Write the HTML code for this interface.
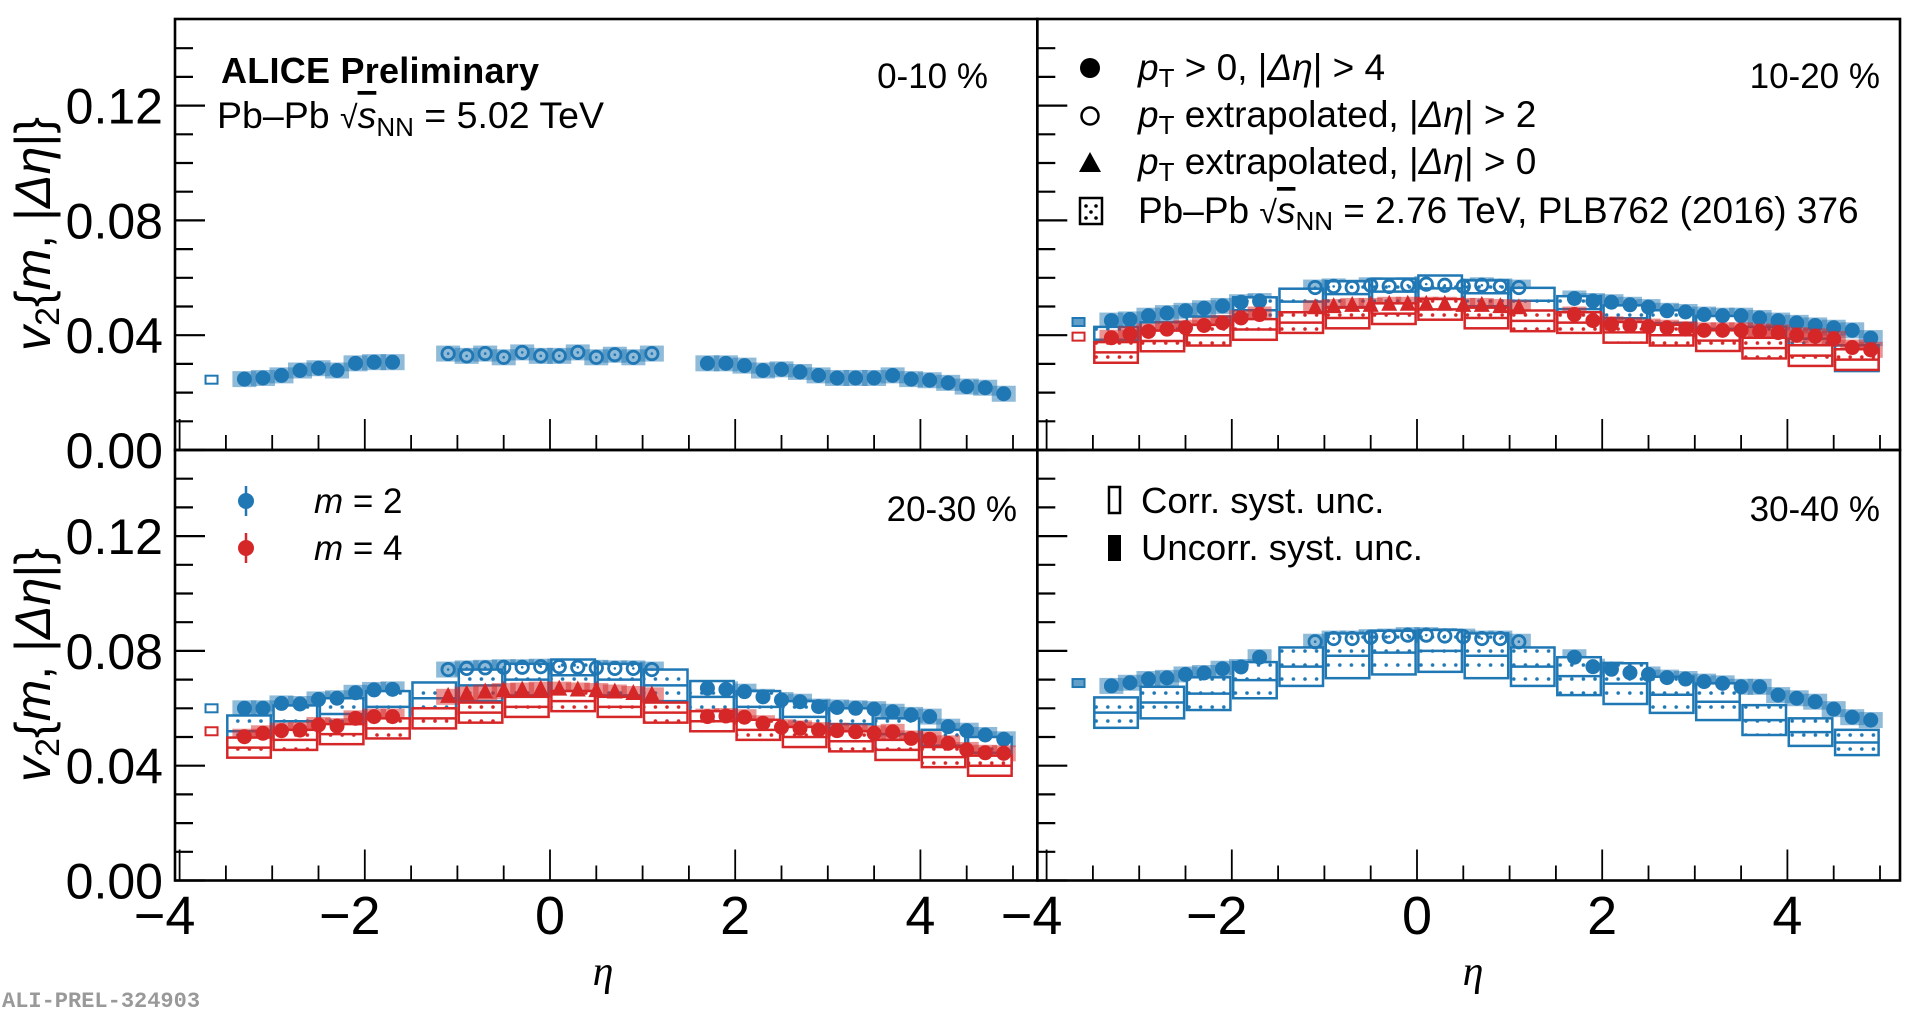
<!DOCTYPE html>
<html><head><meta charset="utf-8"><style>
html,body{margin:0;padding:0;background:#fff}
svg{display:block;font-family:"Liberation Sans",sans-serif}
</style></head><body>
<svg id="chart" width="1920" height="1011" viewBox="0 0 1920 1011" xmlns="http://www.w3.org/2000/svg">
<defs>
<pattern id="dotsB" width="11.6" height="14" patternUnits="userSpaceOnUse"><circle cx="5.8" cy="7" r="1.8" fill="#1f77b4"/></pattern>
<pattern id="dotsR" width="11.6" height="14" patternUnits="userSpaceOnUse"><circle cx="5.8" cy="7" r="1.8" fill="#d62728"/></pattern>
</defs>
<g id="layer"></g>
<text x="221" y="83" font-size="36" font-weight="bold" textLength="318">ALICE Preliminary</text>
<text x="217" y="128" font-size="37.5">Pb–Pb <tspan font-size="32">√</tspan><tspan text-decoration="overline" font-style="italic">s</tspan><tspan font-size="26" dy="8">NN</tspan><tspan dy="-8"> = 5.02 TeV</tspan></text>
<text x="988" y="88" font-size="35" text-anchor="end">0-10 %</text>
<text x="1880" y="88" font-size="35" text-anchor="end">10-20 %</text>
<text x="1017" y="521" font-size="35" text-anchor="end">20-30 %</text>
<text x="1880" y="521" font-size="35" text-anchor="end">30-40 %</text>
<g font-size="37">
<circle cx="1090" cy="68" r="10" fill="#000"/>
<text x="1138" y="80"><tspan font-style="italic">p</tspan><tspan font-size="26" dy="7">T</tspan><tspan dy="-7"> &gt; 0, |</tspan><tspan font-style="italic">Δη</tspan>| &gt; 4</text>
<circle cx="1090" cy="116" r="8.5" fill="none" stroke="#000" stroke-width="2.5"/>
<text x="1138" y="127"><tspan font-style="italic">p</tspan><tspan font-size="26" dy="7">T</tspan><tspan dy="-7"> extrapolated, |</tspan><tspan font-style="italic">Δη</tspan>| &gt; 2</text>
<polygon points="1090,152 1101,172 1079,172" fill="#000"/>
<text x="1138" y="174"><tspan font-style="italic">p</tspan><tspan font-size="26" dy="7">T</tspan><tspan dy="-7"> extrapolated, |</tspan><tspan font-style="italic">Δη</tspan>| &gt; 0</text>
<rect x="1080" y="198" width="22" height="26" fill="#fff" stroke="#000" stroke-width="2.5"/>
<circle cx="1086" cy="206" r="1.8" fill="#000"/><circle cx="1096" cy="206" r="1.8" fill="#000"/><circle cx="1091" cy="212" r="1.8" fill="#000"/><circle cx="1086" cy="218" r="1.8" fill="#000"/><circle cx="1096" cy="218" r="1.8" fill="#000"/>
<text x="1138" y="223">Pb–Pb <tspan font-size="32">√</tspan><tspan font-style="italic" text-decoration="overline">s</tspan><tspan font-size="26" dy="7">NN</tspan><tspan dy="-7"> = 2.76 TeV, PLB762 (2016) 376</tspan></text>
</g>
<g font-size="35">
<line x1="246" y1="486" x2="246" y2="516" stroke="#1f77b4" stroke-width="2.5"/>
<circle cx="246" cy="501" r="8" fill="#1f77b4"/>
<text x="314" y="513"><tspan font-style="italic">m</tspan> = 2</text>
<line x1="246" y1="533" x2="246" y2="563" stroke="#d62728" stroke-width="2.5"/>
<circle cx="246" cy="548" r="8" fill="#d62728"/>
<text x="314" y="560"><tspan font-style="italic">m</tspan> = 4</text>
</g>
<g font-size="36.5">
<rect x="1109" y="487" width="11" height="26" fill="none" stroke="#000" stroke-width="2.5"/>
<text x="1141" y="513">Corr. syst. unc.</text>
<rect x="1108" y="535" width="13" height="26" fill="#000"/>
<text x="1141" y="560">Uncorr. syst. unc.</text>
</g>
<text transform="translate(50,234) rotate(-90)" text-anchor="middle" font-size="50"><tspan font-style="italic">v</tspan><tspan font-size="34" dy="9">2</tspan><tspan dy="-9">{</tspan><tspan font-style="italic">m</tspan>, |<tspan font-style="italic">Δη</tspan>|}</text>
<text transform="translate(50,665) rotate(-90)" text-anchor="middle" font-size="50"><tspan font-style="italic">v</tspan><tspan font-size="34" dy="9">2</tspan><tspan dy="-9">{</tspan><tspan font-style="italic">m</tspan>, |<tspan font-style="italic">Δη</tspan>|}</text>
<text x="603" y="985" font-size="42" font-style="italic" font-family="Liberation Serif, serif" text-anchor="middle">η</text>
<text x="1473" y="985" font-size="42" font-style="italic" font-family="Liberation Serif, serif" text-anchor="middle">η</text>
<text x="2" y="1007" font-size="22" font-weight="bold" fill="#999" font-family="Liberation Mono, monospace">ALI-PREL-324903</text>
</svg>
<script>
const etaLeft = [-3.3,-3.1,-2.9,-2.7,-2.5,-2.3,-2.1,-1.9,-1.7];
const etaOpen = [-1.1,-0.9,-0.7,-0.5,-0.3,-0.1,0.1,0.3,0.5,0.7,0.9,1.1];
const etaRight = [1.7,1.9,2.1,2.3,2.5,2.7,2.9,3.1,3.3,3.5,3.7,3.9,4.1,4.3,4.5,4.7,4.9];
const binCenters = [-3.25,-2.75,-2.25,-1.75,-1.25,-0.75,-0.25,0.25,0.75,1.25,1.75,2.25,2.75,3.25,3.75,4.25,4.75];
const xTicks = [-4,-2,0,2,4];
const xTickLabels = ["\u22124","\u22122","0","2","4"];
const yTicks = [0,0.04,0.08,0.12];
const yTickLabels = ["0.00","0.04","0.08","0.12"];

const c010_m2_left = [0.0247,0.0251,0.0260,0.0277,0.0285,0.0277,0.0302,0.0306,0.0306];
const c010_m2_open = [0.0336,0.0328,0.0336,0.0323,0.0340,0.0328,0.0328,0.0340,0.0323,0.0332,0.0323,0.0336];
const c010_m2_right = [0.0302,0.0302,0.0294,0.0277,0.0281,0.0272,0.0260,0.0251,0.0251,0.0251,0.0260,0.0247,0.0243,0.0234,0.0221,0.0217,0.0196];
const c010_global = [0.0245];

const c1020_m2_left = [0.0451,0.0455,0.0468,0.0477,0.0485,0.0494,0.0502,0.0515,0.0519];
const c1020_m2_open = [0.0566,0.0570,0.0566,0.0574,0.0570,0.0574,0.0578,0.0574,0.0570,0.0574,0.0570,0.0566];
const c1020_m2_right = [0.0528,0.0519,0.0515,0.0506,0.0498,0.0485,0.0481,0.0472,0.0468,0.0468,0.0460,0.0451,0.0443,0.0434,0.0426,0.0417,0.0390];
const c1020_m4_left = [0.0391,0.0404,0.0413,0.0421,0.0426,0.0434,0.0443,0.0460,0.0472];
const c1020_m4_tri = [0.0494,0.0498,0.0502,0.0502,0.0506,0.0506,0.0506,0.0506,0.0502,0.0502,0.0498,0.0494];
const c1020_m4_right = [0.0472,0.0451,0.0438,0.0434,0.0430,0.0426,0.0421,0.0417,0.0417,0.0417,0.0413,0.0409,0.0400,0.0396,0.0387,0.0357,0.0349];
const c1020_276_m2 = [0.0384,0.0400,0.0420,0.0487,0.0517,0.0543,0.0552,0.0563,0.0546,0.0520,0.0491,0.0459,0.0442,0.0422,0.0384,0.0343,0.0320];
const c1020_276_m4 = [0.0340,0.0380,0.0400,0.0420,0.0444,0.0460,0.0475,0.0490,0.0460,0.0450,0.0444,0.0410,0.0400,0.0381,0.0355,0.0329,0.0315];
const c1020_global = [0.0446,0.0395];

const c2030_m2_left = [0.0600,0.0600,0.0617,0.0615,0.0631,0.0635,0.0654,0.0664,0.0666];
const c2030_m2_open = [0.0735,0.0739,0.0741,0.0743,0.0743,0.0745,0.0745,0.0743,0.0741,0.0739,0.0739,0.0735];
const c2030_m2_right = [0.0670,0.0666,0.0658,0.0640,0.0629,0.0623,0.0606,0.0603,0.0600,0.0597,0.0588,0.0577,0.0571,0.0536,0.0522,0.0507,0.0492];
const c2030_m4_left = [0.0501,0.0513,0.0522,0.0524,0.0542,0.0538,0.0565,0.0571,0.0571];
const c2030_m4_tri = [0.0640,0.0648,0.0655,0.0660,0.0662,0.0665,0.0665,0.0662,0.0660,0.0655,0.0650,0.0645];
const c2030_m4_right = [0.0571,0.0573,0.0569,0.0548,0.0534,0.0530,0.0524,0.0522,0.0518,0.0513,0.0518,0.0495,0.0492,0.0478,0.0455,0.0445,0.0443];
const c2030_276_m2 = [0.0520,0.0555,0.0580,0.0605,0.0635,0.0680,0.0700,0.0715,0.0700,0.0680,0.0640,0.0605,0.0570,0.0545,0.0510,0.0470,0.0445];
const c2030_276_m4 = [0.0463,0.0490,0.0510,0.0530,0.0565,0.0585,0.0605,0.0625,0.0605,0.0585,0.0555,0.0525,0.0500,0.0485,0.0455,0.0430,0.0400];
const c2030_global = [0.0600,0.0520];

const c3040_m2_left = [0.0678,0.0689,0.0702,0.0706,0.0718,0.0723,0.0738,0.0744,0.0778];
const c3040_m2_open = [0.0832,0.0843,0.0843,0.0848,0.0850,0.0855,0.0855,0.0852,0.0850,0.0843,0.0843,0.0832];
const c3040_m2_right = [0.0778,0.0745,0.0736,0.0724,0.0718,0.0707,0.0702,0.0693,0.0687,0.0675,0.0675,0.0646,0.0635,0.0623,0.0597,0.0569,0.0559];
const c3040_276_m2 = [0.0585,0.0620,0.0651,0.0698,0.0745,0.0783,0.0794,0.0800,0.0783,0.0745,0.0712,0.0686,0.0647,0.0623,0.0559,0.0517,0.0481];
const c3040_276_half = [0.0053,0.0055,0.0057,0.0063,0.0067,0.0078,0.0076,0.0073,0.0078,0.0067,0.0066,0.0071,0.0063,0.0064,0.0052,0.0048,0.0044];
const c3040_global = [0.0688];

const BLUE = "#1f77b4", RED = "#d62728";
const NS = "http://www.w3.org/2000/svg";
const layer = document.getElementById("layer");
function mk(tag, attrs, parent) {
  const e = document.createElementNS(NS, tag);
  for (const k in attrs) e.setAttribute(k, attrs[k]);
  (parent || layer).appendChild(e);
  return e;
}
const panels = [
  {id:"0-10", x0:175, x1:1037.3, xz:550, yb:450, yt:19},
  {id:"10-20", x0:1037.3, x1:1900, xz:1417, yb:450, yt:19},
  {id:"20-30", x0:175, x1:1037.3, xz:550, yb:880.5, yt:450},
  {id:"30-40", x0:1037.3, x1:1900, xz:1417, yb:880.5, yt:450}
];
const PXU = 92.6, PYV = 2870;
function xs(p, eta) { return p.xz + eta * PXU; }
function ys(p, v) { return p.yb - v * PYV; }

panels.forEach((p, i) => {
  const g = mk("g", {});
  
  
  for (let k = 0; k <= 15; k++) {
    const v = k * 0.01, y = ys(p, v);
    if (y < p.yt + 2) continue;
    const major = (k % 4 === 0);
    const t = mk("line", {x1:p.x0, x2:p.x0 + (major ? 30 : 18), y1:y, y2:y, stroke:"#000", "stroke-width":2.2}, g);
    
    
  }
  for (let k = -8; k <= 10; k++) {
    const eta = k * 0.5, x = xs(p, eta);
    if (x < p.x0 + 2 || x > p.x1 - 2) continue;
    const major = (k % 4 === 0);
    const t = mk("line", {x1:x, x2:x, y1:p.yb, y2:p.yb - (major ? 31 : 15), stroke:"#000", "stroke-width":1.8}, g);
    
    
  }
  const fr = mk("rect", {x:p.x0, y:p.yt, width:p.x1 - p.x0, height:p.yb - p.yt, fill:"none", stroke:"#000", "stroke-width":2.6}, g);
  
  
  if (i === 0 || i === 2) {
    yTicks.forEach((v, j) => {
      const t = mk("text", {x:163, y:ys(p, v) + 18, "font-size":50, "text-anchor":"end"}, g);
      t.textContent = yTickLabels[j];
      
      
    });
  }
  if (i >= 2) {
    xTicks.forEach((eta, j) => {
      const t = mk("text", {x:xs(p, eta) - (eta < 0 ? 15 : 0), y:934, "font-size":54, "text-anchor":"middle"}, g);
      t.textContent = xTickLabels[j];
      
      
    });
  }
});

function uncorr(p, etas, vals, col, name) {
  etas.forEach((e, i) => {
    const r = mk("rect", {x:xs(p, e) - 12, y:ys(p, vals[i]) - 8, width:24, height:16, fill:col, opacity:0.5});
    
    
  });
}
function boxes(p, vals, halfs, defHalf, col, pat, name) {
  binCenters.forEach((c, i) => {
    const h = halfs ? halfs[i] : defHalf;
    const y1 = ys(p, vals[i] + h), y2 = ys(p, vals[i] - h);
    const x1 = xs(p, c - 0.235), x2 = xs(p, c + 0.235);
    const g = mk("g", {});
    
    
    mk("rect", {x:x1, y:y1, width:x2 - x1, height:y2 - y1, fill:"#fff"}, g);
    mk("rect", {x:x1, y:y1, width:x2 - x1, height:y2 - y1, fill:"url(#" + pat + ")", stroke:col, "stroke-width":2.5}, g);
    mk("line", {x1:x1, x2:x2, y1:ys(p, vals[i]), y2:ys(p, vals[i]), stroke:col, "stroke-width":2.5}, g);
  });
}
function filled(p, etas, vals, col, name) {
  etas.forEach((e, i) => {
    const c = mk("circle", {cx:xs(p, e), cy:ys(p, vals[i]), r:7.5, fill:col});
    
    
  });
}
function openc(p, etas, vals, col, name) {
  etas.forEach((e, i) => {
    const x = xs(p, e), y = ys(p, vals[i]);
    const c = mk("circle", {cx:x, cy:y, r:6.2, fill:"none", stroke:col, "stroke-width":2.8});
    
    
    mk("circle", {cx:x, cy:y, r:1.3, fill:col});
  });
}
function tri(p, etas, vals, col, name) {
  etas.forEach((e, i) => {
    const x = xs(p, e), y = ys(p, vals[i]);
    const t = mk("polygon", {points:`${x},${y - 10} ${x + 8},${y + 6} ${x - 8},${y + 6}`, fill:col});
    
    
  });
}
function globalMark(p, v, col, filledIn, name) {
  const r = mk("rect", {x:xs(p, -3.72), y:ys(p, v) - 4, width:12, height:8, fill:filledIn ? col : "#fff", "fill-opacity":filledIn ? 0.7 : 1, stroke:col, "stroke-width":2});
  
  
}

let P = panels[0];
uncorr(P, etaLeft, c010_m2_left, BLUE, "m2-0-10");
uncorr(P, etaOpen, c010_m2_open, BLUE, "m2-0-10");
uncorr(P, etaRight, c010_m2_right, BLUE, "m2-0-10");
filled(P, etaLeft, c010_m2_left, BLUE, "m2-0-10");
openc(P, etaOpen, c010_m2_open, BLUE, "m2-0-10");
filled(P, etaRight, c010_m2_right, BLUE, "m2-0-10");
globalMark(P, c010_global[0], BLUE, false, "m2-0-10");

P = panels[1];
uncorr(P, etaLeft, c1020_m2_left, BLUE, "m2-10-20");
uncorr(P, etaOpen, c1020_m2_open, BLUE, "m2-10-20");
uncorr(P, etaRight, c1020_m2_right, BLUE, "m2-10-20");
boxes(P, c1020_276_m2, null, 0.0045, BLUE, "dotsB", "m2-276-10-20");
filled(P, etaLeft, c1020_m2_left, BLUE, "m2-10-20");
openc(P, etaOpen, c1020_m2_open, BLUE, "m2-10-20");
filled(P, etaRight, c1020_m2_right, BLUE, "m2-10-20");
uncorr(P, etaLeft, c1020_m4_left, RED, "m4-10-20");
uncorr(P, etaOpen, c1020_m4_tri, RED, "m4-10-20");
uncorr(P, etaRight, c1020_m4_right, RED, "m4-10-20");
boxes(P, c1020_276_m4, null, 0.0036, RED, "dotsR", "m4-276-10-20");
filled(P, etaLeft, c1020_m4_left, RED, "m4-10-20");
tri(P, etaOpen, c1020_m4_tri, RED, "m4-10-20");
filled(P, etaRight, c1020_m4_right, RED, "m4-10-20");
globalMark(P, c1020_global[0], BLUE, true, "m2-10-20");
globalMark(P, c1020_global[1], RED, false, "m4-10-20");

P = panels[2];
uncorr(P, etaLeft, c2030_m2_left, BLUE, "m2-20-30");
uncorr(P, etaOpen, c2030_m2_open, BLUE, "m2-20-30");
uncorr(P, etaRight, c2030_m2_right, BLUE, "m2-20-30");
boxes(P, c2030_276_m2, null, 0.0055, BLUE, "dotsB", "m2-276-20-30");
filled(P, etaLeft, c2030_m2_left, BLUE, "m2-20-30");
openc(P, etaOpen, c2030_m2_open, BLUE, "m2-20-30");
filled(P, etaRight, c2030_m2_right, BLUE, "m2-20-30");
uncorr(P, etaLeft, c2030_m4_left, RED, "m4-20-30");
uncorr(P, etaOpen, c2030_m4_tri, RED, "m4-20-30");
uncorr(P, etaRight, c2030_m4_right, RED, "m4-20-30");
boxes(P, c2030_276_m4, null, 0.0035, RED, "dotsR", "m4-276-20-30");
filled(P, etaLeft, c2030_m4_left, RED, "m4-20-30");
tri(P, etaOpen, c2030_m4_tri, RED, "m4-20-30");
filled(P, etaRight, c2030_m4_right, RED, "m4-20-30");
globalMark(P, c2030_global[0], BLUE, false, "m2-20-30");
globalMark(P, c2030_global[1], RED, false, "m4-20-30");

P = panels[3];
uncorr(P, etaLeft, c3040_m2_left, BLUE, "m2-30-40");
uncorr(P, etaOpen, c3040_m2_open, BLUE, "m2-30-40");
uncorr(P, etaRight, c3040_m2_right, BLUE, "m2-30-40");
boxes(P, c3040_276_m2, c3040_276_half, 0, BLUE, "dotsB", "m2-276-30-40");
filled(P, etaLeft, c3040_m2_left, BLUE, "m2-30-40");
openc(P, etaOpen, c3040_m2_open, BLUE, "m2-30-40");
filled(P, etaRight, c3040_m2_right, BLUE, "m2-30-40");
globalMark(P, c3040_global[0], BLUE, true, "m2-30-40");
</script>
</body></html>
